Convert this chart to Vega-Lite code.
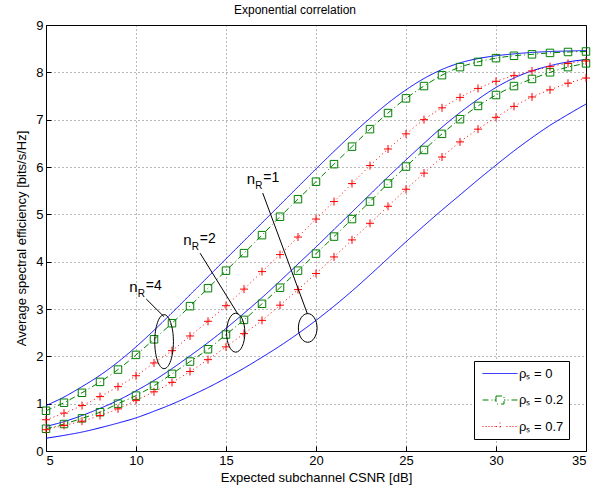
{
  "$schema": "https://vega.github.io/schema/vega-lite/v6.json",
  "width": 540,
  "height": 426,
  "autosize": {"type": "none"},
  "padding": {"left": 46, "top": 25, "right": 22, "bottom": 39},
  "background": "white",
  "title": {"text": "Exponential correlation", "font": "Liberation Sans", "fontSize": 12, "fontWeight": "normal", "color": "#000", "offset": 2, "dx": -21},
  "config": {
    "view": {"stroke": "#000", "strokeWidth": 1},
    "font": "Liberation Sans",
    "axis": {"labelFont": "Liberation Sans", "titleFont": "Liberation Sans", "labelFontSize": 13, "titleFontSize": 13, "titleFontWeight": "normal", "labelColor": "#000", "titleColor": "#000", "domain": false, "grid": true, "gridColor": "#000", "gridDash": [1, 3], "gridOpacity": 0.55, "tickColor": "#000", "tickSize": -5}
  },
  "datasets": {
    "curves": [
      {"r":"0","n":"4","x":5,"y":0.96},{"r":"0","n":"4","x":6,"y":1.14},{"r":"0","n":"4","x":7,"y":1.36},{"r":"0","n":"4","x":8,"y":1.60},{"r":"0","n":"4","x":9,"y":1.88},{"r":"0","n":"4","x":10,"y":2.20},{"r":"0","n":"4","x":11,"y":2.55},{"r":"0","n":"4","x":12,"y":2.92},{"r":"0","n":"4","x":13,"y":3.30},{"r":"0","n":"4","x":14,"y":3.68},{"r":"0","n":"4","x":15,"y":4.06},{"r":"0","n":"4","x":16,"y":4.44},{"r":"0","n":"4","x":17,"y":4.82},{"r":"0","n":"4","x":18,"y":5.20},{"r":"0","n":"4","x":19,"y":5.58},{"r":"0","n":"4","x":20,"y":5.96},{"r":"0","n":"4","x":21,"y":6.33},{"r":"0","n":"4","x":22,"y":6.69},{"r":"0","n":"4","x":23,"y":7.03},{"r":"0","n":"4","x":24,"y":7.35},{"r":"0","n":"4","x":25,"y":7.63},{"r":"0","n":"4","x":26,"y":7.87},{"r":"0","n":"4","x":27,"y":8.06},{"r":"0","n":"4","x":28,"y":8.20},{"r":"0","n":"4","x":29,"y":8.29},{"r":"0","n":"4","x":30,"y":8.35},{"r":"0","n":"4","x":31,"y":8.39},{"r":"0","n":"4","x":32,"y":8.42},{"r":"0","n":"4","x":33,"y":8.44},{"r":"0","n":"4","x":34,"y":8.45},{"r":"0","n":"4","x":35,"y":8.46},
      {"r":"0","n":"2","x":5,"y":0.52},{"r":"0","n":"2","x":6,"y":0.62},{"r":"0","n":"2","x":7,"y":0.75},{"r":"0","n":"2","x":8,"y":0.90},{"r":"0","n":"2","x":9,"y":1.07},{"r":"0","n":"2","x":10,"y":1.27},{"r":"0","n":"2","x":11,"y":1.49},{"r":"0","n":"2","x":12,"y":1.74},{"r":"0","n":"2","x":13,"y":2.01},{"r":"0","n":"2","x":14,"y":2.29},{"r":"0","n":"2","x":15,"y":2.59},{"r":"0","n":"2","x":16,"y":2.91},{"r":"0","n":"2","x":17,"y":3.24},{"r":"0","n":"2","x":18,"y":3.59},{"r":"0","n":"2","x":19,"y":3.95},{"r":"0","n":"2","x":20,"y":4.31},{"r":"0","n":"2","x":21,"y":4.68},{"r":"0","n":"2","x":22,"y":5.05},{"r":"0","n":"2","x":23,"y":5.42},{"r":"0","n":"2","x":24,"y":5.79},{"r":"0","n":"2","x":25,"y":6.15},{"r":"0","n":"2","x":26,"y":6.50},{"r":"0","n":"2","x":27,"y":6.84},{"r":"0","n":"2","x":28,"y":7.15},{"r":"0","n":"2","x":29,"y":7.43},{"r":"0","n":"2","x":30,"y":7.68},{"r":"0","n":"2","x":31,"y":7.88},{"r":"0","n":"2","x":32,"y":8.03},{"r":"0","n":"2","x":33,"y":8.14},{"r":"0","n":"2","x":34,"y":8.22},{"r":"0","n":"2","x":35,"y":8.27},
      {"r":"0","n":"1","x":5,"y":0.27},{"r":"0","n":"1","x":6,"y":0.33},{"r":"0","n":"1","x":7,"y":0.40},{"r":"0","n":"1","x":8,"y":0.49},{"r":"0","n":"1","x":9,"y":0.59},{"r":"0","n":"1","x":10,"y":0.70},{"r":"0","n":"1","x":11,"y":0.84},{"r":"0","n":"1","x":12,"y":0.99},{"r":"0","n":"1","x":13,"y":1.16},{"r":"0","n":"1","x":14,"y":1.34},{"r":"0","n":"1","x":15,"y":1.54},{"r":"0","n":"1","x":16,"y":1.75},{"r":"0","n":"1","x":17,"y":1.98},{"r":"0","n":"1","x":18,"y":2.22},{"r":"0","n":"1","x":19,"y":2.48},{"r":"0","n":"1","x":20,"y":2.76},{"r":"0","n":"1","x":21,"y":3.06},{"r":"0","n":"1","x":22,"y":3.38},{"r":"0","n":"1","x":23,"y":3.72},{"r":"0","n":"1","x":24,"y":4.07},{"r":"0","n":"1","x":25,"y":4.42},{"r":"0","n":"1","x":26,"y":4.76},{"r":"0","n":"1","x":27,"y":5.09},{"r":"0","n":"1","x":28,"y":5.41},{"r":"0","n":"1","x":29,"y":5.73},{"r":"0","n":"1","x":30,"y":6.04},{"r":"0","n":"1","x":31,"y":6.34},{"r":"0","n":"1","x":32,"y":6.62},{"r":"0","n":"1","x":33,"y":6.88},{"r":"0","n":"1","x":34,"y":7.11},{"r":"0","n":"1","x":35,"y":7.33},
      {"r":"0.2","n":"4","x":5,"y":0.85},{"r":"0.2","n":"4","x":6,"y":1.02},{"r":"0.2","n":"4","x":7,"y":1.23},{"r":"0.2","n":"4","x":8,"y":1.46},{"r":"0.2","n":"4","x":9,"y":1.72},{"r":"0.2","n":"4","x":10,"y":2.03},{"r":"0.2","n":"4","x":11,"y":2.36},{"r":"0.2","n":"4","x":12,"y":2.70},{"r":"0.2","n":"4","x":13,"y":3.06},{"r":"0.2","n":"4","x":14,"y":3.44},{"r":"0.2","n":"4","x":15,"y":3.81},{"r":"0.2","n":"4","x":16,"y":4.18},{"r":"0.2","n":"4","x":17,"y":4.56},{"r":"0.2","n":"4","x":18,"y":4.95},{"r":"0.2","n":"4","x":19,"y":5.32},{"r":"0.2","n":"4","x":20,"y":5.69},{"r":"0.2","n":"4","x":21,"y":6.06},{"r":"0.2","n":"4","x":22,"y":6.43},{"r":"0.2","n":"4","x":23,"y":6.80},{"r":"0.2","n":"4","x":24,"y":7.14},{"r":"0.2","n":"4","x":25,"y":7.45},{"r":"0.2","n":"4","x":26,"y":7.71},{"r":"0.2","n":"4","x":27,"y":7.94},{"r":"0.2","n":"4","x":28,"y":8.11},{"r":"0.2","n":"4","x":29,"y":8.22},{"r":"0.2","n":"4","x":30,"y":8.30},{"r":"0.2","n":"4","x":31,"y":8.35},{"r":"0.2","n":"4","x":32,"y":8.38},{"r":"0.2","n":"4","x":33,"y":8.41},{"r":"0.2","n":"4","x":34,"y":8.43},{"r":"0.2","n":"4","x":35,"y":8.44},
      {"r":"0.2","n":"2","x":5,"y":0.47},{"r":"0.2","n":"2","x":6,"y":0.57},{"r":"0.2","n":"2","x":7,"y":0.69},{"r":"0.2","n":"2","x":8,"y":0.82},{"r":"0.2","n":"2","x":9,"y":1.00},{"r":"0.2","n":"2","x":10,"y":1.17},{"r":"0.2","n":"2","x":11,"y":1.38},{"r":"0.2","n":"2","x":12,"y":1.63},{"r":"0.2","n":"2","x":13,"y":1.89},{"r":"0.2","n":"2","x":14,"y":2.15},{"r":"0.2","n":"2","x":15,"y":2.46},{"r":"0.2","n":"2","x":16,"y":2.77},{"r":"0.2","n":"2","x":17,"y":3.11},{"r":"0.2","n":"2","x":18,"y":3.45},{"r":"0.2","n":"2","x":19,"y":3.81},{"r":"0.2","n":"2","x":20,"y":4.17},{"r":"0.2","n":"2","x":21,"y":4.53},{"r":"0.2","n":"2","x":22,"y":4.90},{"r":"0.2","n":"2","x":23,"y":5.27},{"r":"0.2","n":"2","x":24,"y":5.65},{"r":"0.2","n":"2","x":25,"y":6.01},{"r":"0.2","n":"2","x":26,"y":6.36},{"r":"0.2","n":"2","x":27,"y":6.70},{"r":"0.2","n":"2","x":28,"y":7.01},{"r":"0.2","n":"2","x":29,"y":7.29},{"r":"0.2","n":"2","x":30,"y":7.52},{"r":"0.2","n":"2","x":31,"y":7.71},{"r":"0.2","n":"2","x":32,"y":7.86},{"r":"0.2","n":"2","x":33,"y":8.00},{"r":"0.2","n":"2","x":34,"y":8.11},{"r":"0.2","n":"2","x":35,"y":8.19},
      {"r":"0.7","n":"4","x":5,"y":0.66},{"r":"0.7","n":"4","x":6,"y":0.80},{"r":"0.7","n":"4","x":7,"y":0.96},{"r":"0.7","n":"4","x":8,"y":1.15},{"r":"0.7","n":"4","x":9,"y":1.36},{"r":"0.7","n":"4","x":10,"y":1.59},{"r":"0.7","n":"4","x":11,"y":1.86},{"r":"0.7","n":"4","x":12,"y":2.12},{"r":"0.7","n":"4","x":13,"y":2.43},{"r":"0.7","n":"4","x":14,"y":2.74},{"r":"0.7","n":"4","x":15,"y":3.07},{"r":"0.7","n":"4","x":16,"y":3.42},{"r":"0.7","n":"4","x":17,"y":3.79},{"r":"0.7","n":"4","x":18,"y":4.15},{"r":"0.7","n":"4","x":19,"y":4.52},{"r":"0.7","n":"4","x":20,"y":4.90},{"r":"0.7","n":"4","x":21,"y":5.27},{"r":"0.7","n":"4","x":22,"y":5.65},{"r":"0.7","n":"4","x":23,"y":6.03},{"r":"0.7","n":"4","x":24,"y":6.38},{"r":"0.7","n":"4","x":25,"y":6.70},{"r":"0.7","n":"4","x":26,"y":7.00},{"r":"0.7","n":"4","x":27,"y":7.25},{"r":"0.7","n":"4","x":28,"y":7.47},{"r":"0.7","n":"4","x":29,"y":7.66},{"r":"0.7","n":"4","x":30,"y":7.81},{"r":"0.7","n":"4","x":31,"y":7.93},{"r":"0.7","n":"4","x":32,"y":8.03},{"r":"0.7","n":"4","x":33,"y":8.12},{"r":"0.7","n":"4","x":34,"y":8.19},{"r":"0.7","n":"4","x":35,"y":8.24},
      {"r":"0.7","n":"2","x":5,"y":0.45},{"r":"0.7","n":"2","x":6,"y":0.54},{"r":"0.7","n":"2","x":7,"y":0.63},{"r":"0.7","n":"2","x":8,"y":0.75},{"r":"0.7","n":"2","x":9,"y":0.89},{"r":"0.7","n":"2","x":10,"y":1.07},{"r":"0.7","n":"2","x":11,"y":1.25},{"r":"0.7","n":"2","x":12,"y":1.45},{"r":"0.7","n":"2","x":13,"y":1.68},{"r":"0.7","n":"2","x":14,"y":1.93},{"r":"0.7","n":"2","x":15,"y":2.20},{"r":"0.7","n":"2","x":16,"y":2.48},{"r":"0.7","n":"2","x":17,"y":2.76},{"r":"0.7","n":"2","x":18,"y":3.08},{"r":"0.7","n":"2","x":19,"y":3.41},{"r":"0.7","n":"2","x":20,"y":3.75},{"r":"0.7","n":"2","x":21,"y":4.10},{"r":"0.7","n":"2","x":22,"y":4.46},{"r":"0.7","n":"2","x":23,"y":4.81},{"r":"0.7","n":"2","x":24,"y":5.17},{"r":"0.7","n":"2","x":25,"y":5.53},{"r":"0.7","n":"2","x":26,"y":5.87},{"r":"0.7","n":"2","x":27,"y":6.21},{"r":"0.7","n":"2","x":28,"y":6.53},{"r":"0.7","n":"2","x":29,"y":6.80},{"r":"0.7","n":"2","x":30,"y":7.05},{"r":"0.7","n":"2","x":31,"y":7.28},{"r":"0.7","n":"2","x":32,"y":7.48},{"r":"0.7","n":"2","x":33,"y":7.63},{"r":"0.7","n":"2","x":34,"y":7.77},{"r":"0.7","n":"2","x":35,"y":7.88}
    ],
    "ell": [
      {"n": "1", "x": 19.54, "y": 2.60},
      {"n": "2", "x": 15.54, "y": 2.50},
      {"n": "4", "x": 11.56, "y": 2.31}
    ],
    "lead": [
      {"x": 17.04, "y": 5.45, "x2": 19.52, "y2": 2.90},
      {"x": 13.56, "y": 4.18, "x2": 15.68, "y2": 2.88},
      {"x": 10.57, "y": 3.21, "x2": 11.55, "y2": 2.84}
    ],
    "lab": [
      {"x": 16.15, "y": 5.75, "eq": "=1"},
      {"x": 12.63, "y": 4.45, "eq": "=2"},
      {"x": 9.63, "y": 3.46, "eq": "=4"}
    ]
  },
  "layer": [
    {
      "data": {"name": "curves"},
      "mark": {"type": "line", "strokeWidth": 1, "interpolate": "monotone"},
      "encoding": {
        "x": {"field": "x", "type": "quantitative", "scale": {"domain": [5, 35], "nice": false, "zero": false},
              "axis": {"values": [5, 10, 15, 20, 25, 30, 35], "format": "d", "title": "Expected subchannel CSNR [dB]", "labelPadding": 8, "titlePadding": 4}},
        "y": {"field": "y", "type": "quantitative", "scale": {"domain": [0, 9], "nice": false},
              "axis": {"values": [0, 1, 2, 3, 4, 5, 6, 7, 8, 9], "format": "d", "title": "Average spectral efficiency [bits/s/Hz]", "labelPadding": 8, "titlePadding": 7}},
        "color": {"field": "r", "type": "nominal",
                  "scale": {"domain": ["0", "0.2", "0.7"], "range": ["#0000ff", "#008000", "#ff0000"]},
                  "legend": {"title": null, "orient": "none", "legendX": 428, "legendY": 336, "padding": 5, "rowPadding": 11.5,
                             "symbolSize": 196, "symbolStrokeWidth": 1, "labelOffset": 25, "labelFontSize": 13, "labelFont": "Liberation Sans", "labelColor": "#000",
                             "strokeColor": "#000", "fillColor": "#fff", "labelExpr": "'ρₛ = ' + datum.label",
                             "encode": {"symbols": {"update": {
                               "shape": {"signal": "datum.value === '0' ? 'M-0.571,0H4.429' : datum.value === '0.2' ? 'M-0.571,0H0.286M0.714,0H0.857M1.143,0H1.357M1.357,-0.571H2.5V0.571H1.357ZM2.5,0H2.714M3,0H3.143M3.571,0H4.429' : 'M-0.571,0H-0.429M-0.143,0H0M0.286,0H0.429M0.714,0H0.857M1.143,0H1.286M1.357,0H2.5M1.929,-0.571V0.571M2.857,0H3M3.286,0H3.429M3.714,0H3.857M4.143,0H4.286'"},
                               "fill": {"value": "transparent"},
                               "strokeWidth": {"value": 1}}}}}},
        "strokeDash": {"field": "r", "type": "nominal", "scale": {"domain": ["0", "0.2", "0.7"], "range": [[1, 0], [6, 3, 1, 3], [1, 3]]}, "legend": null},
        "detail": {"field": "n"}
      }
    },
    {
      "data": {"name": "curves"},
      "transform": [{"filter": "datum.r === '0.2'"}],
      "mark": {"type": "point", "shape": "square", "filled": false, "size": 56, "strokeWidth": 1, "color": "#008000", "opacity": 1},
      "encoding": {"x": {"field": "x", "type": "quantitative"}, "y": {"field": "y", "type": "quantitative"}}
    },
    {
      "data": {"name": "curves"},
      "transform": [{"filter": "datum.r === '0.7'"}],
      "mark": {"type": "point", "shape": "M-1,0H1M0,-1V1", "filled": false, "size": 64, "strokeWidth": 1, "color": "#ff0000", "opacity": 1},
      "encoding": {"x": {"field": "x", "type": "quantitative"}, "y": {"field": "y", "type": "quantitative"}}
    },
    {
      "data": {"name": "ell"},
      "transform": [{"filter": "datum.n === '4'"}],
      "mark": {"type": "point", "shape": "M0,-1A0.346,1 0 1,1 0,1A0.346,1 0 1,1 0,-1Z", "filled": false, "size": 2916, "strokeWidth": 1, "color": "#000", "opacity": 1},
      "encoding": {"x": {"field": "x", "type": "quantitative"}, "y": {"field": "y", "type": "quantitative"}}
    },
    {
      "data": {"name": "ell"},
      "transform": [{"filter": "datum.n === '2'"}],
      "mark": {"type": "point", "shape": "M0,-0.722A0.339,0.722 0 1,1 0,0.722A0.339,0.722 0 1,1 0,-0.722Z", "filled": false, "size": 2916, "strokeWidth": 1, "color": "#000", "opacity": 1},
      "encoding": {"x": {"field": "x", "type": "quantitative"}, "y": {"field": "y", "type": "quantitative"}}
    },
    {
      "data": {"name": "ell"},
      "transform": [{"filter": "datum.n === '1'"}],
      "mark": {"type": "point", "shape": "M0,-0.531A0.346,0.531 0 1,1 0,0.531A0.346,0.531 0 1,1 0,-0.531Z", "filled": false, "size": 2916, "strokeWidth": 1, "color": "#000", "opacity": 1},
      "encoding": {"x": {"field": "x", "type": "quantitative"}, "y": {"field": "y", "type": "quantitative"}}
    },
    {
      "data": {"name": "lead"},
      "mark": {"type": "rule", "color": "#000", "strokeWidth": 1},
      "encoding": {"x": {"field": "x", "type": "quantitative"}, "y": {"field": "y", "type": "quantitative"},
                   "x2": {"field": "x2"}, "y2": {"field": "y2"}}
    },
    {
      "data": {"name": "lab"},
      "mark": {"type": "text", "text": "n", "align": "left", "baseline": "middle", "font": "Liberation Sans", "fontSize": 15, "color": "#000"},
      "encoding": {"x": {"field": "x", "type": "quantitative"}, "y": {"field": "y", "type": "quantitative"}}
    },
    {
      "data": {"name": "lab"},
      "mark": {"type": "text", "text": "R", "align": "left", "baseline": "middle", "font": "Liberation Sans", "fontSize": 10, "color": "#000", "dx": 8.5, "dy": 7},
      "encoding": {"x": {"field": "x", "type": "quantitative"}, "y": {"field": "y", "type": "quantitative"}}
    },
    {
      "data": {"name": "lab"},
      "mark": {"type": "text", "align": "left", "baseline": "middle", "font": "Liberation Sans", "fontSize": 14, "color": "#000", "dx": 16.5, "dy": -1},
      "encoding": {"x": {"field": "x", "type": "quantitative"}, "y": {"field": "y", "type": "quantitative"}, "text": {"field": "eq"}}
    }
  ]
}
